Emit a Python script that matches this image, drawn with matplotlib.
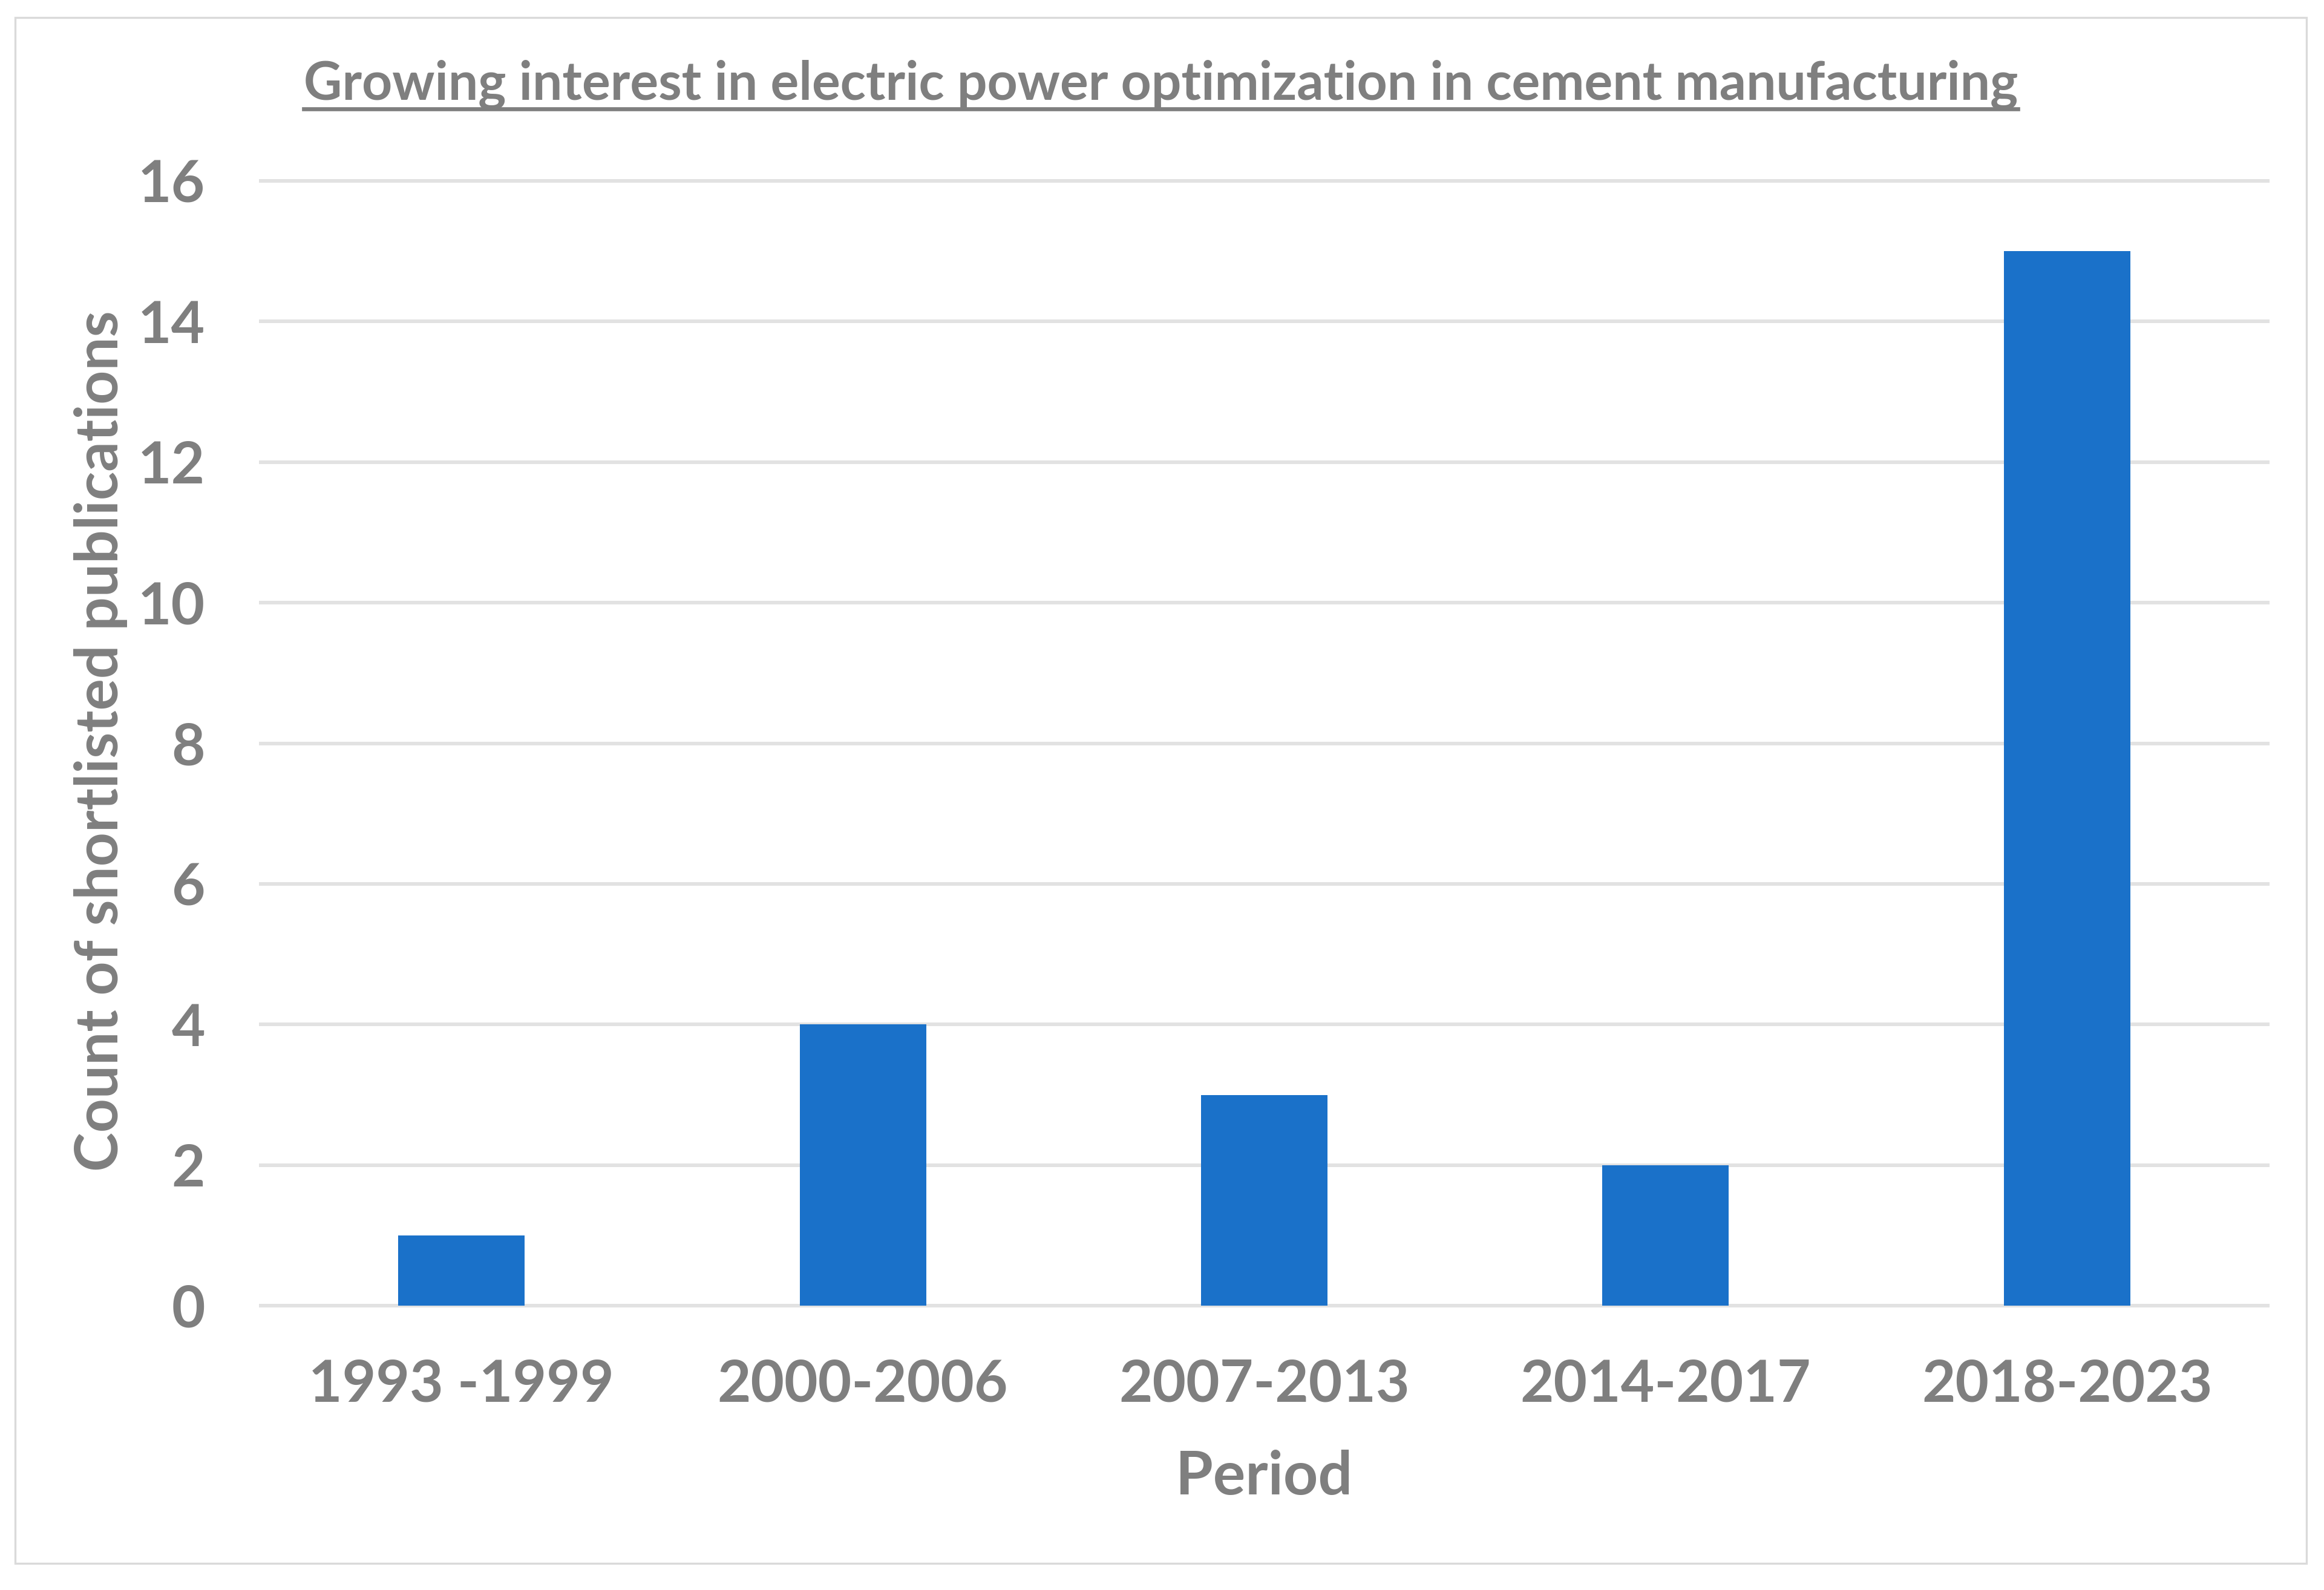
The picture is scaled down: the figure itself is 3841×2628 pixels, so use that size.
# Bar chart: shortlisted publications on electric power optimization in cement plants
import matplotlib.pyplot as plt
from matplotlib.lines import Line2D
from matplotlib.patches import Rectangle

# Data
periods = ['1993 -1999', '2000-2006', '2007-2013', '2014-2017', '2018-2023']
counts = [1, 4, 3, 2, 15]
y_ticks = [0, 2, 4, 6, 8, 10, 12, 14, 16]

title_text = 'Growing interest in electric power optimization in cement manufacturing'
x_title = 'Period'
y_title = 'Count of shortlisted publications'

# Colours
text_grey = '#7F7F7F'
bar_blue = '#1A71C9'
grid_grey = '#E2E2E2'
frame_grey = '#DADADA'

plt.rcParams['font.family'] = ['Lato', 'DejaVu Sans']
plt.rcParams['font.weight'] = 'bold'

fig = plt.figure(figsize=(3841 / 300, 2628 / 300), dpi=300)

# Outer chart border (like the Excel chart area)
fig.patches.append(Rectangle((0.0064, 0.0167), 0.986, 0.9723, transform=fig.transFigure,
                             fill=False, edgecolor=frame_grey, linewidth=0.8))

ax = fig.add_axes([0.1122, 0.1788, 0.8636, 0.7074])
ax.bar(range(len(periods)), counts, width=0.315, color=bar_blue, zorder=3)

ax.set_xlim(-0.5, len(periods) - 0.5)
ax.set_ylim(0, 16)
ax.set_yticks(y_ticks)
ax.set_xticks(range(len(periods)))
ax.set_xticklabels(periods)

# Horizontal gridlines only, no spines, no tick marks
ax.grid(axis='y', color=grid_grey, linewidth=1.44, zorder=0)
ax.set_axisbelow(True)
for line in ax.get_ygridlines():
    line.set_clip_on(False)
for s in ax.spines.values():
    s.set_visible(False)
ax.tick_params(axis='both', length=0, labelsize=23, labelcolor=text_grey)
ax.tick_params(axis='y', pad=22)
ax.tick_params(axis='x', pad=21)

# Axis titles placed where the reference has them
fig.text(0.544, 0.0708, x_title, ha='center', va='center',
         fontsize=24, color=text_grey, fontweight='bold')
fig.text(0.0434, 0.534, y_title, ha='center', va='center', rotation=90,
         fontsize=23.5, color=text_grey, fontweight='bold')

# Title with underline
title = fig.text(0.4994, 0.9372, title_text, ha='center', va='baseline',
                 fontsize=21, color=text_grey, fontweight='bold')
fig.canvas.draw()
bb = title.get_window_extent().transformed(fig.transFigure.inverted())
ul_y = 0.9372 - 15 / 2628
fig.add_artist(Line2D([bb.x0, bb.x1], [ul_y, ul_y], transform=fig.transFigure,
                      color=text_grey, linewidth=1.6))

fig.savefig('out.png', dpi=300)
